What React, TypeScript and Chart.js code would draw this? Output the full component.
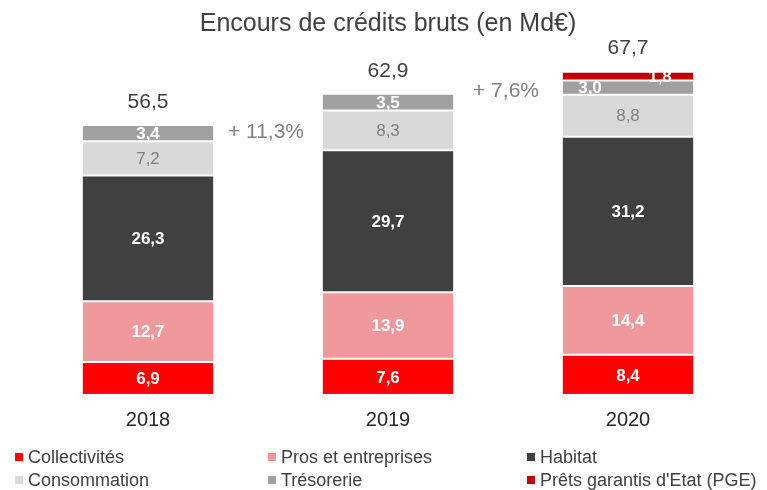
import React, { useEffect, useRef } from "react";
import { Chart, registerables } from "chart.js";

Chart.register(...registerables);

const categories = ["2018", "2019", "2020"];
const seriesNames = [
  "Collectivités",
  "Pros et entreprises",
  "Habitat",
  "Consommation",
  "Trésorerie",
  "Prêts garantis d'Etat (PGE)",
];
const collectivites = [6.9, 7.6, 8.4];
const pros = [12.7, 13.9, 14.4];
const habitat = [26.3, 29.7, 31.2];
const consommation = [7.2, 8.3, 8.8];
const tresorerie = [3.4, 3.5, 3.0];
const pge = [null, null, 1.8];
const totals = [56.5, 62.9, 67.7];
const growthLabels = ["+ 11,3%", "+ 7,6%"];
const growthLabelAnchors = [55.0, 63.6];

const seriesColors = ["#FF0000", "#EF999C", "#404040", "#D9D9D9", "#A0A0A0", "#C00000"];
const labelColors = ["#FFFFFF", "#FFFFFF", "#FFFFFF", "#7F7F7F", "#FFFFFF", "#FFFFFF"];
const labelWeights = ["bold", "bold", "bold", "normal", "bold", "bold"];
// per-dataset, per-category horizontal label shift (px)
const labelShiftX = [
  [0, 0, 0],
  [0, 0, 0],
  [0, 0, 0],
  [0, 0, 0],
  [0, 0, -38],
  [0, 0, 32],
];

const FONT = "'Liberation Sans', Arial, sans-serif";

const fmt = (v: number) => v.toFixed(1).replace(".", ",");

const labelPlugin = {
  id: "customLabels",
  afterDatasetsDraw(chart: any) {
    const ctx = chart.ctx;
    const yScale = chart.scales.y;
    ctx.save();
    ctx.textAlign = "center";
    ctx.textBaseline = "middle";
    chart.data.datasets.forEach((ds: any, i: number) => {
      const meta = chart.getDatasetMeta(i);
      meta.data.forEach((el: any, j: number) => {
        const v = ds.data[j];
        if (v === null || v === undefined) return;
        ctx.font = `${labelWeights[i]} 17px ${FONT}`;
        ctx.fillStyle = labelColors[i];
        const y = (el.y + el.base) / 2;
        ctx.fillText(fmt(v), el.x + labelShiftX[i][j], y + 1);
      });
    });
    const meta0 = chart.getDatasetMeta(0);
    ctx.font = `21px ${FONT}`;
    ctx.fillStyle = "#404040";
    totals.forEach((t, j) => {
      const el = meta0.data[j];
      ctx.fillText(fmt(t), el.x, yScale.getPixelForValue(t) - 23);
    });
    ctx.fillStyle = "#808080";
    growthLabels.forEach((g, j) => {
      const x = (meta0.data[j].x + meta0.data[j + 1].x) / 2 - 2;
      ctx.fillText(g, x, yScale.getPixelForValue(growthLabelAnchors[j]));
    });
    ctx.restore();
  },
};

export default function App() {
  const ref = useRef<HTMLCanvasElement>(null);
  useEffect(() => {
    if (!ref.current) return;
    const seriesData = [collectivites, pros, habitat, consommation, tresorerie, pge];
    const chart = new Chart(ref.current, {
      type: "bar",
      data: {
        labels: categories,
        datasets: seriesData.map((d, i) => ({
          label: seriesNames[i],
          data: d as any,
          backgroundColor: seriesColors[i],
          borderColor: "#FFFFFF",
          borderWidth: { top: 1, bottom: 1, left: 0, right: 0 },
          borderSkipped: false,
          categoryPercentage: 1,
          barPercentage: 0.545,
        })),
      },
      options: {
        responsive: false,
        animation: false,
        layout: { padding: { left: 28, right: 19, top: 0, bottom: 45 } },
        plugins: {
          legend: { display: false },
          tooltip: { enabled: false },
          title: {
            display: true,
            text: "Encours de crédits bruts (en Md€)",
            color: "#404040",
            font: { family: FONT, size: 25, weight: "normal" },
            padding: { top: 9, bottom: 7 },
          },
        },
        scales: {
          x: {
            stacked: true,
            grid: { display: false, drawTicks: false },
            border: { display: false },
            ticks: { color: "#262626", font: { family: FONT, size: 20 }, padding: 13 },
          },
          y: {
            stacked: true,
            display: false,
            min: 0,
            max: 73,
          },
        },
      },
      plugins: [labelPlugin],
    });
    return () => chart.destroy();
  }, []);

  const legendCols = [15, 268, 527];
  const legendRows = [457, 480];
  return (
    <div style={{ position: "fixed", left: 0, top: 0, width: 767, height: 490, background: "#fff" }}>
      <canvas ref={ref} width={767} height={490} />
      {seriesNames.map((name, i) => {
        const col = i % 3;
        const row = Math.floor(i / 3);
        return (
          <div
            key={name}
            style={{
              position: "absolute",
              left: legendCols[col],
              top: legendRows[row] - 11,
              height: 22,
              display: "flex",
              alignItems: "center",
              fontFamily: FONT,
              fontSize: 18,
              color: "#404040",
              whiteSpace: "nowrap",
            }}
          >
            <span
              style={{
                display: "inline-block",
                width: 8,
                height: 8,
                background: seriesColors[i],
                marginRight: 5,
              }}
            />
            {name}
          </div>
        );
      })}
    </div>
  );
}
